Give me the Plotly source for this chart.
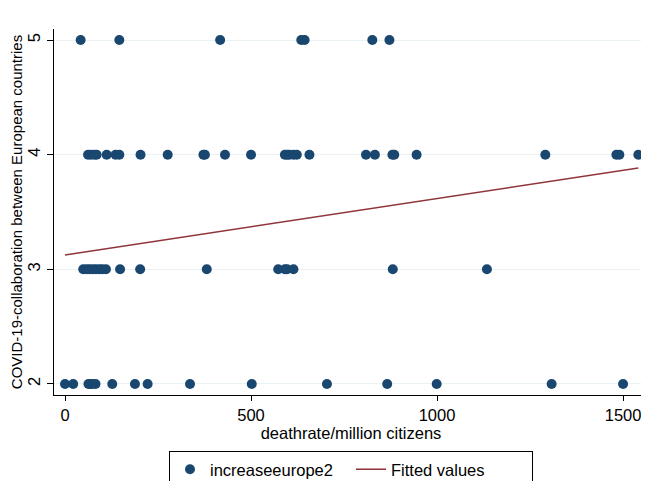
import plotly.graph_objects as go

# deathrate/million citizens for each collaboration level
x_level5 = [42, 146, 417, 635, 644, 826, 872]
x_level4 = [62, 70, 79, 85, 112, 136, 146, 203, 276, 372, 376, 430, 500,
            591, 597, 603, 614, 623, 657, 809, 833, 880, 885, 945,
            1291, 1482, 1490, 1541]
x_level3 = [49, 58, 66, 75, 83, 92, 100, 110, 148, 202, 381,
            573, 591, 597, 614, 881, 1134]
x_level2 = [0, 22, 63, 68, 73, 82, 127, 188, 222, 336, 502,
            704, 866, 999, 1308, 1500]
levels = [5, 4, 3, 2]

# fitted values (linear fit)
fit_x = [0, 1541]
fit_y = [3.125, 3.884]

xs, ys = [], []
for lvl, arr in zip(levels, [x_level5, x_level4, x_level3, x_level2]):
    xs += arr
    ys += [lvl] * len(arr)

navy = "#1a476f"
maroon = "#90353b"
font = "Liberation Sans, Arial, sans-serif"

fig = go.Figure()
fig.add_trace(go.Scatter(x=xs, y=ys, mode="markers", name="increaseeurope2",
                         marker=dict(color=navy, size=10, line=dict(width=0))))
fig.add_trace(go.Scatter(x=fit_x, y=fit_y, mode="lines", name="Fitted values",
                         line=dict(color=maroon, width=1.5)))

# page body has an 8px margin, so the figure is sized to fit the window
fig.update_layout(
    width=641, height=473,
    margin=dict(l=46, r=1, t=21, b=86, autoexpand=False),
    paper_bgcolor="white", plot_bgcolor="white",
    font=dict(family=font, size=16, color="black"),
    showlegend=True,
    legend=dict(orientation="h", x=0.50, xanchor="center", y=-0.153, yanchor="top",
                bordercolor="black", borderwidth=1, bgcolor="white",
                font=dict(size=16.5), entrywidth=136, itemwidth=30),
)
fig.update_xaxes(
    range=[-29.6, 1567], tickvals=[0, 500, 1000, 1500],
    showline=True, linecolor="black", linewidth=1,
    ticks="outside", ticklen=5, tickcolor="black",
    showgrid=False, zeroline=False, automargin=False,
    tickfont=dict(size=16.5),
    title=dict(text="deathrate/million citizens", standoff=0, font=dict(size=16.5)),
)
fig.update_yaxes(
    range=[1.904, 5.096], tickvals=[2, 3, 4, 5], tickangle=-90,
    showline=True, linecolor="black", linewidth=1,
    ticks="outside", ticklen=6, tickcolor="black",
    showgrid=True, gridcolor="#eaf2f3", gridwidth=1, zeroline=False, automargin=False,
    tickfont=dict(size=16.5),
    title=dict(text="COVID-19-collaboration between European countries", standoff=5,
               font=dict(size=15)),
)

fig.write_html("out.html")
